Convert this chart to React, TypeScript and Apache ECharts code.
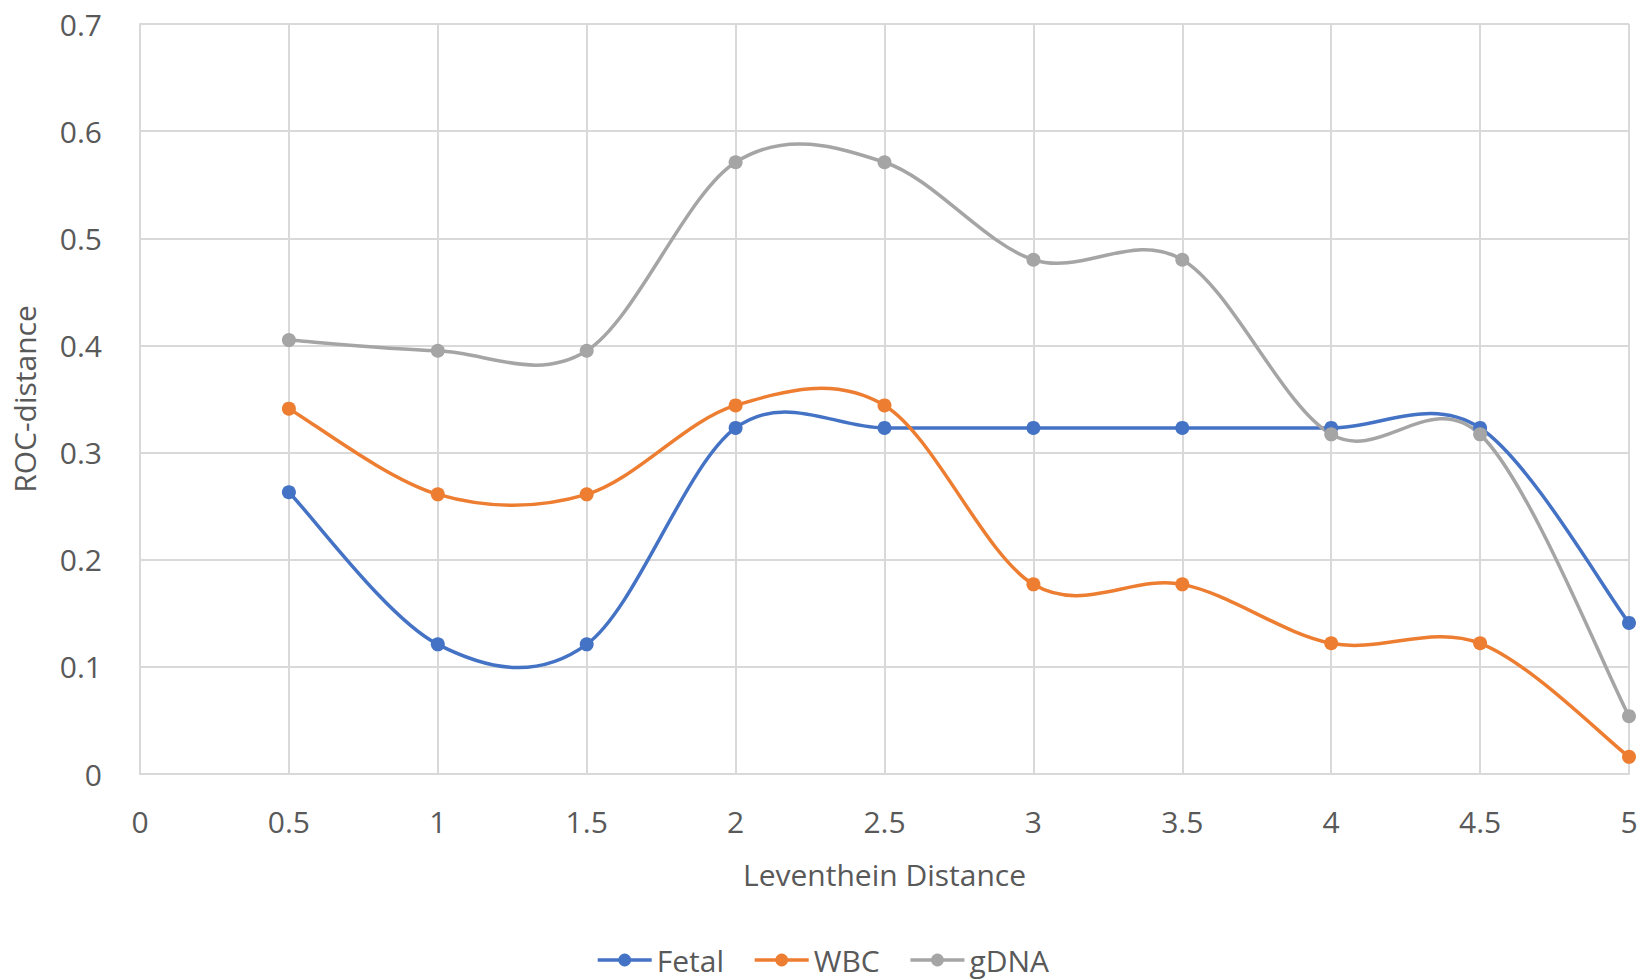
import React, { useEffect, useRef } from "react";
import * as echarts from "echarts";

const xValues = [0.5, 1, 1.5, 2, 2.5, 3, 3.5, 4, 4.5, 5];
const fetal = [0.263, 0.121, 0.121, 0.323, 0.323, 0.323, 0.323, 0.323, 0.323, 0.141];
const wbc = [0.341, 0.261, 0.261, 0.344, 0.344, 0.177, 0.177, 0.122, 0.122, 0.016];
const gdna = [0.405, 0.395, 0.395, 0.571, 0.571, 0.48, 0.48, 0.317, 0.317, 0.054];
const seriesNames = ["Fetal", "WBC", "gDNA"];
const seriesColors = ["#4472C4", "#ED7D31", "#A5A5A5"];

const FONT = "'Open Sans', 'Noto Sans', sans-serif";
const TEXT = "#595959";
const GRID = "#D9D9D9";

export default function App() {
  const ref = useRef<HTMLDivElement>(null);
  useEffect(() => {
    if (!ref.current) return;
    const chart = echarts.init(ref.current, undefined, { renderer: "svg" });
    const all = [fetal, wbc, gdna];

    // Smooth curve (Catmull-Rom style, as in the spreadsheet original) drawn
    // segment by segment through the axis scales.
    const makeCurve = (name: string, values: number[], color: string) => ({
      id: name + "-curve",
      name: name + " curve",
      type: "custom",
      z: 1,
      silent: true,
      encode: { x: 0, y: 1 },
      data: xValues.map((x, j) => [x, values[j]]),
      renderItem: (params: any, api: any) => {
        const i = params.dataIndex;
        const n = xValues.length;
        if (i >= n - 1) return null;
        const pt = (k: number) => {
          const kk = Math.max(0, Math.min(n - 1, k));
          return api.coord([xValues[kk], values[kk]]);
        };
        const p0 = pt(i - 1);
        const p1 = pt(i);
        const p2 = pt(i + 1);
        const p3 = pt(i + 2);
        const t = 1 / 6;
        return {
          type: "bezierCurve",
          shape: {
            x1: p1[0],
            y1: p1[1],
            x2: p2[0],
            y2: p2[1],
            cpx1: p1[0] + (p2[0] - p0[0]) * t,
            cpy1: p1[1] + (p2[1] - p0[1]) * t,
            cpx2: p2[0] - (p3[0] - p1[0]) * t,
            cpy2: p2[1] - (p3[1] - p1[1]) * t,
          },
          style: { stroke: color, lineWidth: 3.5, fill: "none" },
        };
      },
    });

    chart.setOption({
      animation: false,
      backgroundColor: "#ffffff",
      textStyle: { fontFamily: FONT, color: TEXT },
      grid: { left: 140, right: 16, top: 24, bottom: 206, containLabel: false },
      xAxis: {
        type: "value",
        min: 0,
        max: 5,
        interval: 0.5,
        name: "Leventhein Distance",
        nameLocation: "middle",
        nameGap: 85,
        nameTextStyle: { fontSize: 30, color: TEXT, fontFamily: FONT },
        axisLine: { show: true, lineStyle: { color: GRID, width: 2 } },
        axisTick: { show: false },
        axisLabel: { fontSize: 30, color: TEXT, margin: 32, fontFamily: FONT },
        splitLine: { show: true, lineStyle: { color: GRID, width: 2 } },
      },
      yAxis: {
        type: "value",
        min: 0,
        max: 0.7,
        interval: 0.1,
        name: "ROC-distance",
        nameLocation: "middle",
        nameGap: 101,
        nameRotate: 90,
        nameTextStyle: { fontSize: 30, color: TEXT, fontFamily: FONT },
        axisLine: { show: true, lineStyle: { color: GRID, width: 2 } },
        axisTick: { show: false },
        axisLabel: { fontSize: 30, color: TEXT, margin: 38, fontFamily: FONT },
        splitLine: { show: true, lineStyle: { color: GRID, width: 2 } },
      },
      legend: {
        left: "center",
        top: 940,
        itemWidth: 54,
        itemHeight: 16,
        itemGap: 29,
        textStyle: { fontSize: 30, lineHeight: 30, color: TEXT, fontFamily: FONT },
        data: seriesNames.map((name, i) => ({
          name,
          itemStyle: { color: seriesColors[i] },
          lineStyle: { color: seriesColors[i], width: 3.5, opacity: 1 },
        })),
      },
      series: [
        ...seriesNames.map((name, i) => ({
          name,
          type: "line",
          z: 3,
          symbol: "circle",
          symbolSize: 14,
          data: xValues.map((x, j) => [x, all[i][j]]),
          lineStyle: { color: seriesColors[i], width: 3.5, opacity: 0 },
          itemStyle: { color: seriesColors[i] },
        })),
        ...seriesNames.map((name, i) => makeCurve(name, all[i], seriesColors[i])),
      ],
    });
    return () => chart.dispose();
  }, []);
  return (
    <div
      ref={ref}
      style={{ position: "fixed", left: 0, top: 0, width: 1645, height: 980 }}
    />
  );
}
